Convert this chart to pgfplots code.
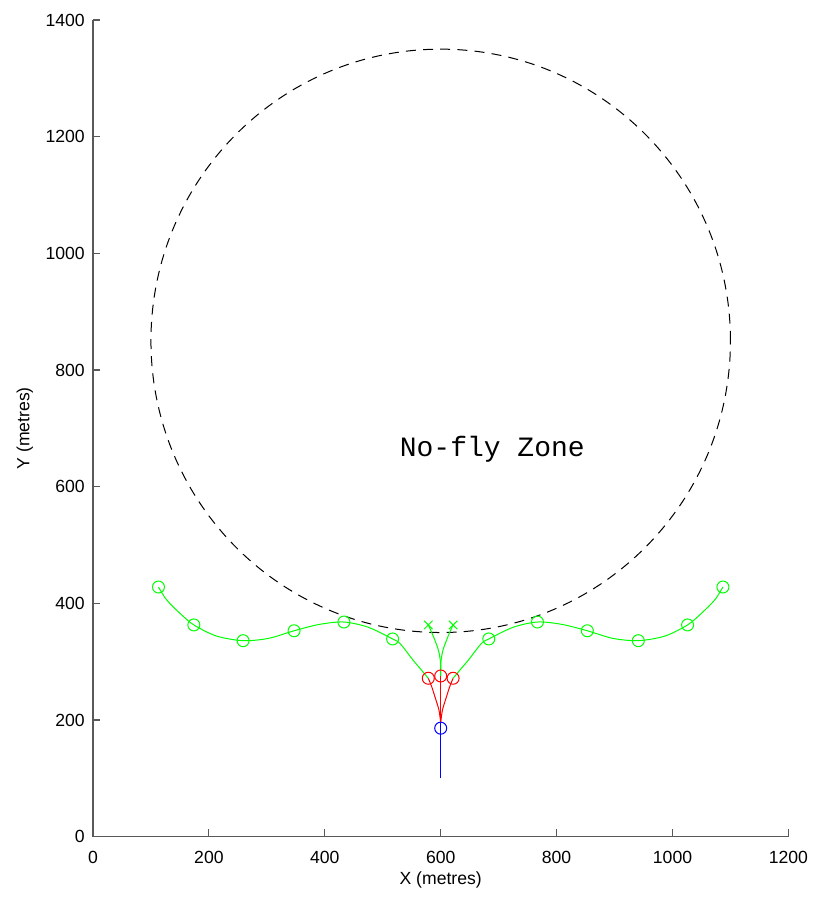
\documentclass[border=0pt]{standalone}
\usepackage{pgfplots}
\pgfplotsset{compat=1.18}
\usepackage{fontspec}
\setmainfont{Liberation Sans}
\newfontfamily\monofont{Liberation Mono}

\definecolor{mgreen}{rgb}{0,1,0}
\definecolor{mred}{rgb}{1,0,0}
\definecolor{mblue}{rgb}{0,0,1}

\begin{document}
\begin{tikzpicture}
\begin{axis}[
  width=347.7pt, height=408.35pt, scale only axis,
  xmin=0, xmax=1200, ymin=0, ymax=1400,
  axis x line*=bottom, axis y line*=left,
  axis line style={black!65, line width=0.6pt, -},
  xtick={0,200,...,1200}, ytick={0,200,...,1400},
  tick align=inside, major tick length=3.7pt,
  tick style={black!65, line width=0.6pt},
  ticklabel style={font=\fontsize{8.8}{10}\selectfont, text=black},
  xticklabel style={yshift=-3.6pt},
  yticklabel style={xshift=-0.6pt},
  /pgf/number format/assume math mode=true,
  /pgf/number format/1000 sep={},
  xlabel={X (metres)}, ylabel={Y (metres)},
  label style={font=\fontsize{8.8}{10}\selectfont},
  xlabel style={anchor=center, at={(axis description cs:0.5,-0.053)}},
  ylabel style={anchor=center, rotate=0, at={(axis description cs:-0.098,0.5)}},
  clip=false,
]

% no-fly zone boundary: centre (600,850), radius 500
\draw[black, line width=0.5pt, dash pattern=on 5pt off 3.6pt]
  (axis cs:600,850) ellipse [x radius=500, y radius=500];

\node[font=\monofont\fontsize{14}{16}\selectfont] at (axis cs:689,665) {No-fly Zone};

% approach leg
\addplot[mblue, line width=0.5pt] coordinates {(600,100) (600,195)};
\addplot[mblue, only marks, mark=o, mark size=3pt, mark options={line width=0.5pt}]
  coordinates {(600,186)};

% branching legs
\addplot[mred, line width=0.5pt, smooth] coordinates {
  (600,195) (597,217) (590,240) (584.5,257) (578.6,271.6)};
\addplot[mred, line width=0.5pt] coordinates {(600,195) (600,275.5)};
\addplot[mred, line width=0.5pt, smooth] coordinates {
  (600,195) (603,217) (610,240) (615.5,257) (621.4,271.6)};
\addplot[mred, only marks, mark=o, mark size=3pt, mark options={line width=0.5pt}]
  coordinates {(578.6,271.6) (600,275.5) (621.4,271.6)};

% central green legs ending in crosses
\addplot[mgreen, line width=0.5pt, smooth] coordinates {
  (600,275.5) (599.5,300) (596,320) (587.5,343) (578.6,363)};
\addplot[mgreen, line width=0.5pt, smooth] coordinates {
  (600,275.5) (600.5,300) (604,320) (612.5,343) (621.4,363)};
\addplot[mgreen, only marks, mark=x, mark size=3pt, mark options={line width=0.5pt}]
  coordinates {(578.6,363) (621.4,363)};

% western sweep
\addplot[mgreen, line width=0.5pt, smooth] coordinates {
  (578.6,271.6) (564,289) (552,303) (530,331) (517,339)
  (475,359) (433,368) (391,364) (347,353) (303,340)
  (259,336) (213,344) (174,363) (150,383) (127,406) (113,428)};
\addplot[mgreen, only marks, mark=o, mark size=3pt, mark options={line width=0.5pt}]
  coordinates {(517,339) (433,368) (347,353) (259,336) (174,363) (113,428)};

% eastern sweep
\addplot[mgreen, line width=0.5pt, smooth] coordinates {
  (621.4,271.6) (636,289) (648,303) (670,331) (683,339)
  (725,359) (767,368) (809,364) (853,353) (897,340)
  (941,336) (987,344) (1026,363) (1050,383) (1073,406) (1087,428)};
\addplot[mgreen, only marks, mark=o, mark size=3pt, mark options={line width=0.5pt}]
  coordinates {(683,339) (767,368) (853,353) (941,336) (1026,363) (1087,428)};

\end{axis}
\path ([shift={(-46.5pt,-30.65pt)}]current axis.south west)
  rectangle ([shift={(13.8pt,10pt)}]current axis.north east);
\end{tikzpicture}
\end{document}
